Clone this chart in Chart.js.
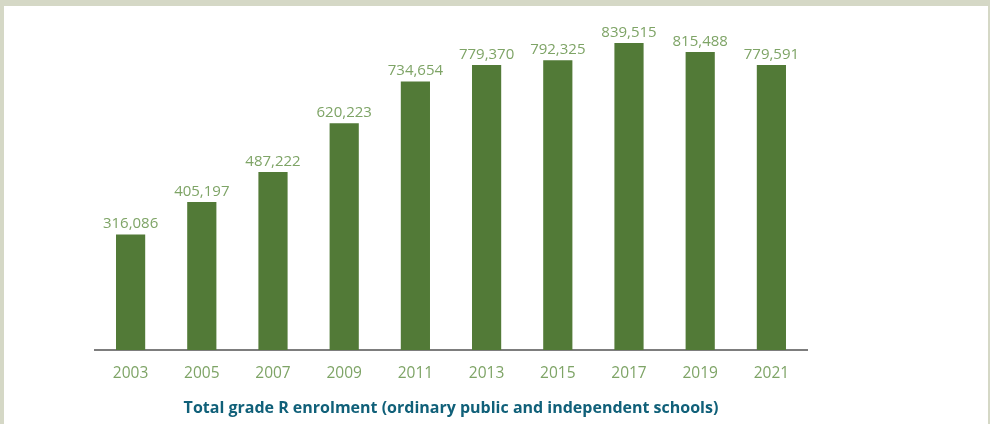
<!DOCTYPE html>
<html>
<head>
<meta charset="utf-8">
<script src="https://cdn.jsdelivr.net/npm/chart.js@4"></script>
<style>
  html, body { margin: 0; padding: 0; }
  body { width: 990px; height: 424px; background: #d5d8c6; position: relative; overflow: hidden; }
  #panel { position: absolute; left: 4px; top: 6px; width: 984px; height: 418px; background: #ffffff; }
  #chart { display: block; }
</style>
</head>
<body>
<div id="panel"><canvas id="chart" width="984" height="418"></canvas></div>
<script>
// Grade R enrolment by year
const years = ['2003', '2005', '2007', '2009', '2011', '2013', '2015', '2017', '2019', '2021'];
const enrolment = [316086, 405197, 487222, 620223, 734654, 779370, 792325, 839515, 815488, 779591];
const axisTitle = 'Total grade R enrolment (ordinary public and independent schools)';

const BAR_GREEN = '#527a37';
const LABEL_GREEN = '#7ea466';
const TITLE_TEAL = '#106079';
const FONT = '"Open Sans", "Noto Sans", sans-serif';

// Writes each bar's value just above its top
const valueLabels = {
  id: 'valueLabels',
  afterDatasetsDraw(chart) {
    const ctx = chart.ctx;
    const meta = chart.getDatasetMeta(0);
    ctx.save();
    ctx.font = '15px ' + FONT;
    ctx.fillStyle = LABEL_GREEN;
    ctx.textAlign = 'center';
    ctx.textBaseline = 'alphabetic';
    meta.data.forEach((bar, i) => {
      const v = chart.data.datasets[0].data[i];
      ctx.fillText(v.toLocaleString('en-US'), bar.x, bar.y - 6);
    });
    ctx.restore();
  }
};

new Chart(document.getElementById('chart'), {
  type: 'bar',
  data: {
    labels: years,
    datasets: [{
      data: enrolment,
      backgroundColor: BAR_GREEN,
      borderWidth: 0,
      barPercentage: 0.41,
      categoryPercentage: 1.0
    }]
  },
  options: {
    responsive: false,
    animation: false,
    layout: { padding: { left: 91, right: 181, top: 15, bottom: 0 } },
    plugins: { legend: { display: false }, tooltip: { enabled: false } },
    scales: {
      y: {
        display: false,
        min: 0,
        max: 900000
      },
      x: {
        grid: { display: false, drawTicks: false },
        border: { display: true, color: '#7d7d7d', width: 2 },
        ticks: {
          color: LABEL_GREEN,
          font: { family: FONT, size: 15.5 },
          padding: 14
        },
        title: {
          display: true,
          text: axisTitle,
          color: TITLE_TEAL,
          font: { family: FONT, size: 16, weight: 'bold' },
          padding: { top: 0, bottom: 6 }
        },
        afterFit(scale) { scale.height = 74; }
      }
    }
  },
  plugins: [valueLabels]
});
</script>
</body>
</html>
